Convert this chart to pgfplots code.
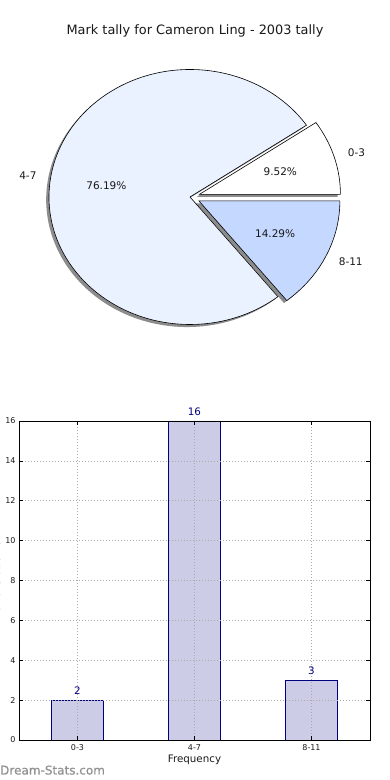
\documentclass[border=0pt]{standalone}
\usepackage{pgfplots}
\pgfplotsset{compat=1.18}
\usepackage{pgfplotstable}
\usepackage{fontspec}
\setmainfont{DejaVu Sans}
\newfontfamily\wmfont[FakeBold=0.8]{DejaVu Sans}

\pgfplotstableread{
label count
0-3 2
4-7 16
8-11 3
}\tally

\definecolor{wedgeA}{RGB}{255,255,255}
\definecolor{wedgeB}{RGB}{234,241,255}
\definecolor{wedgeC}{RGB}{197,216,255}
\definecolor{barfill}{RGB}{204,204,230}
\definecolor{baredge}{RGB}{0,0,128}
\definecolor{gridgray}{RGB}{170,170,170}
\definecolor{shadowgray}{RGB}{140,140,140}
\definecolor{wmgray}{RGB}{145,145,145}

\pgfkeys{/pgf/number format/assume math mode=true}

\begin{document}
\begin{tikzpicture}
\pgfplotstablegetelem{0}{count}\of\tally \edef\cA{\pgfplotsretval}
\pgfplotstablegetelem{1}{count}\of\tally \edef\cB{\pgfplotsretval}
\pgfplotstablegetelem{2}{count}\of\tally \edef\cC{\pgfplotsretval}
\pgfmathsetmacro\tot{\cA+\cB+\cC}
\pgfmathsetmacro\aA{360*\cA/\tot}
\pgfmathsetmacro\aB{360*(\cA+\cB)/\tot}
\pgfmathsetmacro\mA{\aA/2}
\pgfmathsetmacro\mB{(\aA+\aB)/2}
\pgfmathsetmacro\mC{(\aB+360)/2}
\def\ex{0.07}
\pgfmathsetmacro\sAx{\ex*cos(\mA)}\pgfmathsetmacro\sAy{\ex*sin(\mA)}
\def\sBx{0}\def\sBy{0}
\pgfmathsetmacro\sCx{\ex*cos(\mC)}\pgfmathsetmacro\sCy{\ex*sin(\mC)}
\pgfmathsetmacro\pAx{\sAx+1}\pgfmathsetmacro\pAy{\sAy}
\pgfmathsetmacro\pBx{cos(\aA)}\pgfmathsetmacro\pBy{sin(\aA)}
\pgfmathsetmacro\pCx{\sCx+cos(\aB)}\pgfmathsetmacro\pCy{\sCy+sin(\aB)}
% labels
\pgfmathsetmacro\lAx{\sAx+1.1*cos(\mA)}\pgfmathsetmacro\lAy{\sAy+1.1*sin(\mA)}
\pgfmathsetmacro\lBx{\sBx+1.1*cos(\mB)}\pgfmathsetmacro\lBy{\sBy+1.1*sin(\mB)}
\pgfmathsetmacro\lCx{\sCx+1.1*cos(\mC)}\pgfmathsetmacro\lCy{\sCy+1.1*sin(\mC)}
\pgfmathsetmacro\tAx{\sAx+0.6*cos(\mA)}\pgfmathsetmacro\tAy{\sAy+0.6*sin(\mA)}
\pgfmathsetmacro\tBx{\sBx+0.6*cos(\mB)}\pgfmathsetmacro\tBy{\sBy+0.6*sin(\mB)}
\pgfmathsetmacro\tCx{\sCx+0.6*cos(\mC)}\pgfmathsetmacro\tCy{\sCy+0.6*sin(\mC)}
\pgfmathsetmacro\qA{100*\cA/\tot}
\pgfmathsetmacro\qB{100*\cB/\tot}
\pgfmathsetmacro\qC{100*\cC/\tot}

% title
\node[anchor=base, inner sep=0pt, font=\fontsize{12.9}{15}\selectfont, text=black!90] at (195pt,745.7pt) {Mark tally for Cameron Ling - 2003 tally};

% pie
\begin{axis}[at={(190pt,583pt)}, anchor=center, scale only axis,
  width=394.8pt, height=357pt, xmin=-1.4, xmax=1.4, ymin=-1.4, ymax=1.4,
  hide axis, clip=false]
\addplot[draw=none, forget plot] coordinates {(0,0)};
\begin{scope}[xshift=-2.8pt, yshift=-2.55pt]
\fill[shadowgray] (axis cs:\sAx,\sAy) -- (axis cs:\pAx,\pAy) arc[start angle=0, end angle=\aA, x radius=141pt, y radius=127.5pt] -- cycle;
\fill[shadowgray] (axis cs:\sBx,\sBy) -- (axis cs:\pBx,\pBy) arc[start angle=\aA, end angle=\aB, x radius=141pt, y radius=127.5pt] -- cycle;
\fill[shadowgray] (axis cs:\sCx,\sCy) -- (axis cs:\pCx,\pCy) arc[start angle=\aB, end angle=360, x radius=141pt, y radius=127.5pt] -- cycle;
\end{scope}
\filldraw[fill=wedgeA, draw=black, line width=0.6pt, line join=miter] (axis cs:\sAx,\sAy) -- (axis cs:\pAx,\pAy) arc[start angle=0, end angle=\aA, x radius=141pt, y radius=127.5pt] -- cycle;
\filldraw[fill=wedgeB, draw=black, line width=0.6pt, line join=miter] (axis cs:\sBx,\sBy) -- (axis cs:\pBx,\pBy) arc[start angle=\aA, end angle=\aB, x radius=141pt, y radius=127.5pt] -- cycle;
\filldraw[fill=wedgeC, draw=black, line width=0.6pt, line join=miter] (axis cs:\sCx,\sCy) -- (axis cs:\pCx,\pCy) arc[start angle=\aB, end angle=360, x radius=141pt, y radius=127.5pt] -- cycle;
\begin{scope}[every node/.style={font=\fontsize{10.5}{12}\selectfont, text=black!90}]
\node[anchor=west, inner sep=0pt] at (axis cs:\lAx,\lAy) {0-3};
\node[anchor=east, inner sep=0pt] at (axis cs:\lBx,\lBy) {4-7};
\node[anchor=west, inner sep=0pt] at (axis cs:\lCx,\lCy) {8-11};
\node[inner sep=0pt] at (axis cs:\tAx,\tAy) {\pgfmathprintnumber[fixed,fixed zerofill,precision=2]{\qA}\%};
\node[inner sep=0pt] at (axis cs:\tBx,\tBy) {\pgfmathprintnumber[fixed,fixed zerofill,precision=2]{\qB}\%};
\node[inner sep=0pt] at (axis cs:\tCx,\tCy) {\pgfmathprintnumber[fixed,fixed zerofill,precision=2]{\qC}\%};
\end{scope}
\end{axis}

% bar chart
\begin{axis}[at={(19pt,40pt)}, anchor=south west, scale only axis,
  width=351pt, height=319pt,
  xmin=-0.5, xmax=2.5, ymin=0, ymax=16,
  xtick={0,1,2}, xticklabels={0-3,4-7,8-11},
  ytick={0,2,...,16},
  grid=major,
  major grid style={gridgray, line width=0.7pt, dash pattern=on 1pt off 2pt},
  axis on top,
  axis line style={black, line width=0.8pt},
  tick style={black, line width=0.6pt},
  major tick length=4pt,
  ticklabel style={font=\fontsize{8}{9}\selectfont, text=black!90},
  xticklabel style={yshift=-1.5pt},
  /pgf/number format/assume math mode=true,
  xlabel={Frequency}, ylabel={No. of students},
  label style={font=\fontsize{10.3}{12}\selectfont, text=black!90},
  xlabel style={at={(axis description cs:0.5,0)}, anchor=base, inner sep=0pt, yshift=-23pt},
  ylabel style={at={(axis description cs:0,0.5)}, anchor=south, inner sep=0pt, yshift=18.5pt},
  ]
\addplot[ybar, bar width=52pt, fill=barfill, draw=baredge, line width=0.7pt,
  nodes near coords,
  nodes near coords style={font=\fontsize{10.3}{12}\selectfont, text=baredge, inner sep=0pt, yshift=5.5pt}]
  table[x expr=\coordindex, y=count] {\tally};
\end{axis}

% watermark
\node[anchor=base west, inner sep=0pt, font=\wmfont\fontsize{12}{14}\selectfont, text=wmgray] at (0pt,5.5pt) {Dream-Stats.com};

\pgfresetboundingbox
\path[use as bounding box] (0pt,0pt) rectangle (390pt,780pt);
\end{tikzpicture}
\end{document}
